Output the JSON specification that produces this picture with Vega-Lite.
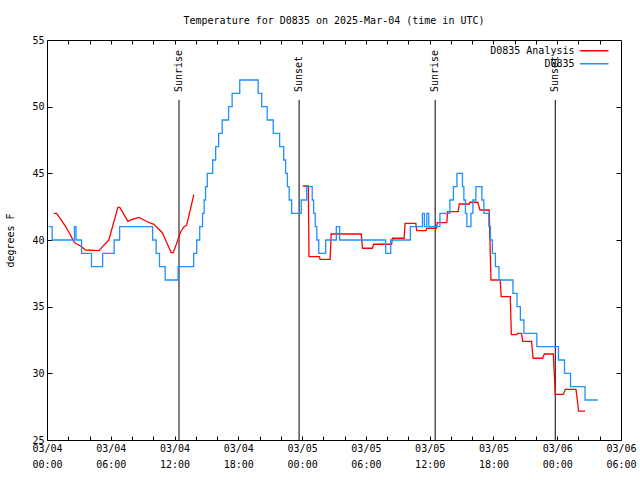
{
  "$schema": "https://vega.github.io/schema/vega-lite/v6.json",
  "width": 574,
  "height": 400,
  "autosize": {"type": "none"},
  "padding": {"left": 47, "top": 40, "right": 19, "bottom": 40},
  "background": "white",
  "title": {
    "text": "Temperature for D0835 on 2025-Mar-04 (time in UTC)",
    "font": "DejaVu Sans Mono",
    "fontSize": 10,
    "fontWeight": "normal",
    "color": "black",
    "anchor": "middle",
    "offset": 9
  },
  "config": {
    "view": {"stroke": "black", "strokeWidth": 1},
    "font": "DejaVu Sans Mono",
    "axis": {
      "grid": false,
      "domain": false,
      "tickColor": "black",
      "tickWidth": 1,
      "labelColor": "black",
      "labelFont": "DejaVu Sans Mono",
      "labelFontSize": 10,
      "titleFont": "DejaVu Sans Mono",
      "titleFontSize": 10,
      "titleFontWeight": "normal",
      "titleColor": "black"
    }
  },
  "datasets": {
    "events": [
      {"time": "2025-03-04T12:25:00Z", "label": "Sunrise"},
      {"time": "2025-03-04T23:43:00Z", "label": "Sunset"},
      {"time": "2025-03-05T12:31:00Z", "label": "Sunrise"},
      {"time": "2025-03-05T23:49:00Z", "label": "Sunset"}
    ],
    "analysis": [
      {"time": "2025-03-04T00:38:00Z", "temp": 42.0, "seg": 1, "series": "D0835 Analysis"},
      {"time": "2025-03-04T00:54:00Z", "temp": 42.0, "seg": 1, "series": "D0835 Analysis"},
      {"time": "2025-03-04T01:07:00Z", "temp": 41.75, "seg": 1, "series": "D0835 Analysis"},
      {"time": "2025-03-04T01:26:00Z", "temp": 41.4, "seg": 1, "series": "D0835 Analysis"},
      {"time": "2025-03-04T01:45:00Z", "temp": 41.0, "seg": 1, "series": "D0835 Analysis"},
      {"time": "2025-03-04T02:03:00Z", "temp": 40.6, "seg": 1, "series": "D0835 Analysis"},
      {"time": "2025-03-04T02:31:00Z", "temp": 39.9, "seg": 1, "series": "D0835 Analysis"},
      {"time": "2025-03-04T02:41:00Z", "temp": 39.75, "seg": 1, "series": "D0835 Analysis"},
      {"time": "2025-03-04T03:09:00Z", "temp": 39.55, "seg": 1, "series": "D0835 Analysis"},
      {"time": "2025-03-04T03:38:00Z", "temp": 39.25, "seg": 1, "series": "D0835 Analysis"},
      {"time": "2025-03-04T04:53:00Z", "temp": 39.2, "seg": 1, "series": "D0835 Analysis"},
      {"time": "2025-03-04T05:49:00Z", "temp": 40.0, "seg": 1, "series": "D0835 Analysis"},
      {"time": "2025-03-04T06:40:00Z", "temp": 42.45, "seg": 1, "series": "D0835 Analysis"},
      {"time": "2025-03-04T06:51:00Z", "temp": 42.45, "seg": 1, "series": "D0835 Analysis"},
      {"time": "2025-03-04T07:37:00Z", "temp": 41.4, "seg": 1, "series": "D0835 Analysis"},
      {"time": "2025-03-04T08:01:00Z", "temp": 41.55, "seg": 1, "series": "D0835 Analysis"},
      {"time": "2025-03-04T08:39:00Z", "temp": 41.7, "seg": 1, "series": "D0835 Analysis"},
      {"time": "2025-03-04T09:26:00Z", "temp": 41.37, "seg": 1, "series": "D0835 Analysis"},
      {"time": "2025-03-04T10:03:00Z", "temp": 41.17, "seg": 1, "series": "D0835 Analysis"},
      {"time": "2025-03-04T10:51:00Z", "temp": 40.55, "seg": 1, "series": "D0835 Analysis"},
      {"time": "2025-03-04T11:41:00Z", "temp": 39.05, "seg": 1, "series": "D0835 Analysis"},
      {"time": "2025-03-04T11:53:00Z", "temp": 39.05, "seg": 1, "series": "D0835 Analysis"},
      {"time": "2025-03-04T12:16:00Z", "temp": 39.9, "seg": 1, "series": "D0835 Analysis"},
      {"time": "2025-03-04T12:34:00Z", "temp": 40.6, "seg": 1, "series": "D0835 Analysis"},
      {"time": "2025-03-04T12:53:00Z", "temp": 41.0, "seg": 1, "series": "D0835 Analysis"},
      {"time": "2025-03-04T13:08:00Z", "temp": 41.1, "seg": 1, "series": "D0835 Analysis"},
      {"time": "2025-03-04T13:49:00Z", "temp": 43.4, "seg": 1, "series": "D0835 Analysis"},
      {"time": "2025-03-05T00:04:00Z", "temp": 44.05, "seg": 2, "series": "D0835 Analysis"},
      {"time": "2025-03-05T00:35:00Z", "temp": 44.05, "seg": 2, "series": "D0835 Analysis"},
      {"time": "2025-03-05T00:39:00Z", "temp": 38.75, "seg": 2, "series": "D0835 Analysis"},
      {"time": "2025-03-05T01:38:00Z", "temp": 38.75, "seg": 2, "series": "D0835 Analysis"},
      {"time": "2025-03-05T01:41:00Z", "temp": 38.55, "seg": 2, "series": "D0835 Analysis"},
      {"time": "2025-03-05T02:38:00Z", "temp": 38.55, "seg": 2, "series": "D0835 Analysis"},
      {"time": "2025-03-05T02:44:00Z", "temp": 40.45, "seg": 2, "series": "D0835 Analysis"},
      {"time": "2025-03-05T05:34:00Z", "temp": 40.45, "seg": 2, "series": "D0835 Analysis"},
      {"time": "2025-03-05T05:41:00Z", "temp": 39.38, "seg": 2, "series": "D0835 Analysis"},
      {"time": "2025-03-05T06:37:00Z", "temp": 39.38, "seg": 2, "series": "D0835 Analysis"},
      {"time": "2025-03-05T06:43:00Z", "temp": 39.68, "seg": 2, "series": "D0835 Analysis"},
      {"time": "2025-03-05T08:25:00Z", "temp": 39.68, "seg": 2, "series": "D0835 Analysis"},
      {"time": "2025-03-05T08:30:00Z", "temp": 40.13, "seg": 2, "series": "D0835 Analysis"},
      {"time": "2025-03-05T09:36:00Z", "temp": 40.13, "seg": 2, "series": "D0835 Analysis"},
      {"time": "2025-03-05T09:41:00Z", "temp": 41.25, "seg": 2, "series": "D0835 Analysis"},
      {"time": "2025-03-05T10:42:00Z", "temp": 41.25, "seg": 2, "series": "D0835 Analysis"},
      {"time": "2025-03-05T10:47:00Z", "temp": 40.7, "seg": 2, "series": "D0835 Analysis"},
      {"time": "2025-03-05T11:38:00Z", "temp": 40.7, "seg": 2, "series": "D0835 Analysis"},
      {"time": "2025-03-05T11:44:00Z", "temp": 40.88, "seg": 2, "series": "D0835 Analysis"},
      {"time": "2025-03-05T12:38:00Z", "temp": 40.88, "seg": 2, "series": "D0835 Analysis"},
      {"time": "2025-03-05T12:43:00Z", "temp": 41.3, "seg": 2, "series": "D0835 Analysis"},
      {"time": "2025-03-05T13:37:00Z", "temp": 41.3, "seg": 2, "series": "D0835 Analysis"},
      {"time": "2025-03-05T13:41:00Z", "temp": 42.13, "seg": 2, "series": "D0835 Analysis"},
      {"time": "2025-03-05T14:41:00Z", "temp": 42.13, "seg": 2, "series": "D0835 Analysis"},
      {"time": "2025-03-05T14:47:00Z", "temp": 42.7, "seg": 2, "series": "D0835 Analysis"},
      {"time": "2025-03-05T15:43:00Z", "temp": 42.7, "seg": 2, "series": "D0835 Analysis"},
      {"time": "2025-03-05T15:47:00Z", "temp": 42.83, "seg": 2, "series": "D0835 Analysis"},
      {"time": "2025-03-05T16:31:00Z", "temp": 42.83, "seg": 2, "series": "D0835 Analysis"},
      {"time": "2025-03-05T16:44:00Z", "temp": 42.25, "seg": 2, "series": "D0835 Analysis"},
      {"time": "2025-03-05T17:36:00Z", "temp": 42.25, "seg": 2, "series": "D0835 Analysis"},
      {"time": "2025-03-05T17:46:00Z", "temp": 37.0, "seg": 2, "series": "D0835 Analysis"},
      {"time": "2025-03-05T18:38:00Z", "temp": 37.0, "seg": 2, "series": "D0835 Analysis"},
      {"time": "2025-03-05T18:44:00Z", "temp": 35.75, "seg": 2, "series": "D0835 Analysis"},
      {"time": "2025-03-05T19:35:00Z", "temp": 35.75, "seg": 2, "series": "D0835 Analysis"},
      {"time": "2025-03-05T19:41:00Z", "temp": 32.9, "seg": 2, "series": "D0835 Analysis"},
      {"time": "2025-03-05T20:13:00Z", "temp": 32.9, "seg": 2, "series": "D0835 Analysis"},
      {"time": "2025-03-05T20:16:00Z", "temp": 33.0, "seg": 2, "series": "D0835 Analysis"},
      {"time": "2025-03-05T20:39:00Z", "temp": 33.0, "seg": 2, "series": "D0835 Analysis"},
      {"time": "2025-03-05T20:45:00Z", "temp": 32.4, "seg": 2, "series": "D0835 Analysis"},
      {"time": "2025-03-05T21:35:00Z", "temp": 32.4, "seg": 2, "series": "D0835 Analysis"},
      {"time": "2025-03-05T21:44:00Z", "temp": 31.13, "seg": 2, "series": "D0835 Analysis"},
      {"time": "2025-03-05T22:38:00Z", "temp": 31.13, "seg": 2, "series": "D0835 Analysis"},
      {"time": "2025-03-05T22:47:00Z", "temp": 31.45, "seg": 2, "series": "D0835 Analysis"},
      {"time": "2025-03-05T23:38:00Z", "temp": 31.45, "seg": 2, "series": "D0835 Analysis"},
      {"time": "2025-03-05T23:49:00Z", "temp": 28.42, "seg": 2, "series": "D0835 Analysis"},
      {"time": "2025-03-06T00:34:00Z", "temp": 28.42, "seg": 2, "series": "D0835 Analysis"},
      {"time": "2025-03-06T00:46:00Z", "temp": 28.8, "seg": 2, "series": "D0835 Analysis"},
      {"time": "2025-03-06T01:46:00Z", "temp": 28.8, "seg": 2, "series": "D0835 Analysis"},
      {"time": "2025-03-06T02:01:00Z", "temp": 27.17, "seg": 2, "series": "D0835 Analysis"},
      {"time": "2025-03-06T02:37:00Z", "temp": 27.17, "seg": 2, "series": "D0835 Analysis"}
    ],
    "obs": [
      {"time": "2025-03-04T00:10:00Z", "temp": 41, "series": "D0835"},
      {"time": "2025-03-04T00:29:00Z", "temp": 40, "series": "D0835"},
      {"time": "2025-03-04T02:35:00Z", "temp": 41, "series": "D0835"},
      {"time": "2025-03-04T02:44:00Z", "temp": 40, "series": "D0835"},
      {"time": "2025-03-04T03:15:00Z", "temp": 39, "series": "D0835"},
      {"time": "2025-03-04T04:11:00Z", "temp": 38, "series": "D0835"},
      {"time": "2025-03-04T05:14:00Z", "temp": 39, "series": "D0835"},
      {"time": "2025-03-04T06:19:00Z", "temp": 40, "series": "D0835"},
      {"time": "2025-03-04T06:50:00Z", "temp": 41, "series": "D0835"},
      {"time": "2025-03-04T09:56:00Z", "temp": 40, "series": "D0835"},
      {"time": "2025-03-04T10:16:00Z", "temp": 39, "series": "D0835"},
      {"time": "2025-03-04T10:35:00Z", "temp": 38, "series": "D0835"},
      {"time": "2025-03-04T11:07:00Z", "temp": 37, "series": "D0835"},
      {"time": "2025-03-04T12:20:00Z", "temp": 38, "series": "D0835"},
      {"time": "2025-03-04T13:48:00Z", "temp": 39, "series": "D0835"},
      {"time": "2025-03-04T14:05:00Z", "temp": 40, "series": "D0835"},
      {"time": "2025-03-04T14:22:00Z", "temp": 41, "series": "D0835"},
      {"time": "2025-03-04T14:38:00Z", "temp": 42, "series": "D0835"},
      {"time": "2025-03-04T14:47:00Z", "temp": 43, "series": "D0835"},
      {"time": "2025-03-04T14:55:00Z", "temp": 44, "series": "D0835"},
      {"time": "2025-03-04T15:05:00Z", "temp": 45, "series": "D0835"},
      {"time": "2025-03-04T15:35:00Z", "temp": 46, "series": "D0835"},
      {"time": "2025-03-04T15:52:00Z", "temp": 47, "series": "D0835"},
      {"time": "2025-03-04T16:09:00Z", "temp": 48, "series": "D0835"},
      {"time": "2025-03-04T16:29:00Z", "temp": 49, "series": "D0835"},
      {"time": "2025-03-04T17:05:00Z", "temp": 50, "series": "D0835"},
      {"time": "2025-03-04T17:25:00Z", "temp": 51, "series": "D0835"},
      {"time": "2025-03-04T18:08:00Z", "temp": 52, "series": "D0835"},
      {"time": "2025-03-04T19:52:00Z", "temp": 51, "series": "D0835"},
      {"time": "2025-03-04T20:12:00Z", "temp": 50, "series": "D0835"},
      {"time": "2025-03-04T20:43:00Z", "temp": 49, "series": "D0835"},
      {"time": "2025-03-04T21:17:00Z", "temp": 48, "series": "D0835"},
      {"time": "2025-03-04T21:53:00Z", "temp": 47, "series": "D0835"},
      {"time": "2025-03-04T22:16:00Z", "temp": 46, "series": "D0835"},
      {"time": "2025-03-04T22:27:00Z", "temp": 45, "series": "D0835"},
      {"time": "2025-03-04T22:37:00Z", "temp": 44, "series": "D0835"},
      {"time": "2025-03-04T22:47:00Z", "temp": 43, "series": "D0835"},
      {"time": "2025-03-04T23:01:00Z", "temp": 42, "series": "D0835"},
      {"time": "2025-03-04T23:55:00Z", "temp": 43, "series": "D0835"},
      {"time": "2025-03-05T00:26:00Z", "temp": 44, "series": "D0835"},
      {"time": "2025-03-05T00:57:00Z", "temp": 43, "series": "D0835"},
      {"time": "2025-03-05T01:05:00Z", "temp": 42, "series": "D0835"},
      {"time": "2025-03-05T01:14:00Z", "temp": 41, "series": "D0835"},
      {"time": "2025-03-05T01:23:00Z", "temp": 40, "series": "D0835"},
      {"time": "2025-03-05T01:34:00Z", "temp": 39, "series": "D0835"},
      {"time": "2025-03-05T02:13:00Z", "temp": 40, "series": "D0835"},
      {"time": "2025-03-05T03:13:00Z", "temp": 41, "series": "D0835"},
      {"time": "2025-03-05T03:32:00Z", "temp": 40, "series": "D0835"},
      {"time": "2025-03-05T07:52:00Z", "temp": 39, "series": "D0835"},
      {"time": "2025-03-05T08:20:00Z", "temp": 40, "series": "D0835"},
      {"time": "2025-03-05T10:11:00Z", "temp": 41, "series": "D0835"},
      {"time": "2025-03-05T11:19:00Z", "temp": 42, "series": "D0835"},
      {"time": "2025-03-05T11:30:00Z", "temp": 41, "series": "D0835"},
      {"time": "2025-03-05T11:44:00Z", "temp": 42, "series": "D0835"},
      {"time": "2025-03-05T11:55:00Z", "temp": 41, "series": "D0835"},
      {"time": "2025-03-05T12:58:00Z", "temp": 42, "series": "D0835"},
      {"time": "2025-03-05T13:54:00Z", "temp": 43, "series": "D0835"},
      {"time": "2025-03-05T14:14:00Z", "temp": 44, "series": "D0835"},
      {"time": "2025-03-05T14:34:00Z", "temp": 45, "series": "D0835"},
      {"time": "2025-03-05T15:05:00Z", "temp": 44, "series": "D0835"},
      {"time": "2025-03-05T15:13:00Z", "temp": 43, "series": "D0835"},
      {"time": "2025-03-05T15:22:00Z", "temp": 42, "series": "D0835"},
      {"time": "2025-03-05T15:30:00Z", "temp": 41, "series": "D0835"},
      {"time": "2025-03-05T15:53:00Z", "temp": 42, "series": "D0835"},
      {"time": "2025-03-05T16:04:00Z", "temp": 43, "series": "D0835"},
      {"time": "2025-03-05T16:21:00Z", "temp": 44, "series": "D0835"},
      {"time": "2025-03-05T16:55:00Z", "temp": 43, "series": "D0835"},
      {"time": "2025-03-05T17:06:00Z", "temp": 42, "series": "D0835"},
      {"time": "2025-03-05T17:34:00Z", "temp": 41, "series": "D0835"},
      {"time": "2025-03-05T17:43:00Z", "temp": 40, "series": "D0835"},
      {"time": "2025-03-05T17:54:00Z", "temp": 39, "series": "D0835"},
      {"time": "2025-03-05T18:11:00Z", "temp": 38, "series": "D0835"},
      {"time": "2025-03-05T18:31:00Z", "temp": 37, "series": "D0835"},
      {"time": "2025-03-05T19:50:00Z", "temp": 36, "series": "D0835"},
      {"time": "2025-03-05T20:13:00Z", "temp": 35, "series": "D0835"},
      {"time": "2025-03-05T20:32:00Z", "temp": 34, "series": "D0835"},
      {"time": "2025-03-05T20:52:00Z", "temp": 33, "series": "D0835"},
      {"time": "2025-03-05T22:05:00Z", "temp": 32, "series": "D0835"},
      {"time": "2025-03-06T00:07:00Z", "temp": 31, "series": "D0835"},
      {"time": "2025-03-06T00:41:00Z", "temp": 30, "series": "D0835"},
      {"time": "2025-03-06T01:15:00Z", "temp": 29, "series": "D0835"},
      {"time": "2025-03-06T02:37:00Z", "temp": 28, "series": "D0835"},
      {"time": "2025-03-06T03:49:00Z", "temp": 28, "series": "D0835"}
    ]
  },
  "layer": [
    {
      "data": {"name": "events"},
      "mark": {"type": "rule", "color": "black", "strokeWidth": 1},
      "encoding": {
        "x": {"field": "time", "type": "temporal", "axis": null},
        "y": {"datum": 50.5, "type": "quantitative", "axis": null},
        "y2": {"datum": 25}
      }
    },
    {
      "data": {"name": "events"},
      "mark": {"type": "text", "angle": 270, "align": "left", "baseline": "middle", "font": "DejaVu Sans Mono", "fontSize": 10, "color": "black"},
      "encoding": {
        "x": {"field": "time", "type": "temporal", "axis": null},
        "y": {"datum": 51.1, "type": "quantitative", "axis": null},
        "text": {"field": "label"}
      }
    },
    {
      "data": {"name": "analysis"},
      "mark": {"type": "line", "strokeWidth": 1.3},
      "encoding": {
        "x": {
          "field": "time",
          "type": "temporal",
          "scale": {"type": "utc", "domain": [{"year": 2025, "month": 3, "date": 4, "hours": 0, "utc": true}, {"year": 2025, "month": 3, "date": 6, "hours": 6, "utc": true}]},
          "axis": {
            "orient": "bottom",
            "title": null,
            "values": [
              {"year": 2025, "month": 3, "date": 4, "hours": 0, "utc": true},
              {"year": 2025, "month": 3, "date": 4, "hours": 2, "utc": true},
              {"year": 2025, "month": 3, "date": 4, "hours": 4, "utc": true},
              {"year": 2025, "month": 3, "date": 4, "hours": 6, "utc": true},
              {"year": 2025, "month": 3, "date": 4, "hours": 8, "utc": true},
              {"year": 2025, "month": 3, "date": 4, "hours": 10, "utc": true},
              {"year": 2025, "month": 3, "date": 4, "hours": 12, "utc": true},
              {"year": 2025, "month": 3, "date": 4, "hours": 14, "utc": true},
              {"year": 2025, "month": 3, "date": 4, "hours": 16, "utc": true},
              {"year": 2025, "month": 3, "date": 4, "hours": 18, "utc": true},
              {"year": 2025, "month": 3, "date": 4, "hours": 20, "utc": true},
              {"year": 2025, "month": 3, "date": 4, "hours": 22, "utc": true},
              {"year": 2025, "month": 3, "date": 5, "hours": 0, "utc": true},
              {"year": 2025, "month": 3, "date": 5, "hours": 2, "utc": true},
              {"year": 2025, "month": 3, "date": 5, "hours": 4, "utc": true},
              {"year": 2025, "month": 3, "date": 5, "hours": 6, "utc": true},
              {"year": 2025, "month": 3, "date": 5, "hours": 8, "utc": true},
              {"year": 2025, "month": 3, "date": 5, "hours": 10, "utc": true},
              {"year": 2025, "month": 3, "date": 5, "hours": 12, "utc": true},
              {"year": 2025, "month": 3, "date": 5, "hours": 14, "utc": true},
              {"year": 2025, "month": 3, "date": 5, "hours": 16, "utc": true},
              {"year": 2025, "month": 3, "date": 5, "hours": 18, "utc": true},
              {"year": 2025, "month": 3, "date": 5, "hours": 20, "utc": true},
              {"year": 2025, "month": 3, "date": 5, "hours": 22, "utc": true},
              {"year": 2025, "month": 3, "date": 6, "hours": 0, "utc": true},
              {"year": 2025, "month": 3, "date": 6, "hours": 2, "utc": true},
              {"year": 2025, "month": 3, "date": 6, "hours": 4, "utc": true},
              {"year": 2025, "month": 3, "date": 6, "hours": 6, "utc": true}
            ],
            "labelExpr": "utchours(datum.value) % 6 == 0 ? [utcFormat(datum.value, '%m/%d'), utcFormat(datum.value, '%H:%M')] : ''",
            "tickSize": -4,
            "labelPadding": 7,
            "labelOverlap": false,
            "labelFlush": false,
            "labelBound": false,
            "labelLineHeight": 16
          }
        },
        "y": {
          "field": "temp",
          "type": "quantitative",
          "scale": {"domain": [25, 55], "nice": false, "zero": false},
          "axis": {
            "orient": "left",
            "title": "degrees F",
            "values": [25, 30, 35, 40, 45, 50, 55],
            "tickSize": -5,
            "labelPadding": 8,
            "titlePadding": 16
          }
        },
        "color": {
          "field": "series",
          "type": "nominal",
          "scale": {"domain": ["D0835 Analysis", "D0835"], "range": ["#ff0000", "#1e90ff"]},
          "legend": {
            "orient": "none",
            "legendX": 539.5,
            "legendY": 2.75,
            "padding": 0,
            "title": null,
            "symbolType": "M-2.1,0H2",
            "symbolSize": 196,
            "symbolStrokeWidth": 1.5,
            "rowPadding": 0,
            "labelAlign": "right",
            "labelOffset": -28,
            "labelFont": "DejaVu Sans Mono",
            "labelFontSize": 10,
            "labelColor": "black",
            "labelLimit": 0
          }
        },
        "detail": {"field": "seg"}
      }
    },
    {
      "data": {"name": "obs"},
      "mark": {"type": "line", "strokeWidth": 1.3, "interpolate": "step-after"},
      "encoding": {
        "x": {
          "field": "time",
          "type": "temporal",
          "axis": {
            "orient": "top",
            "title": null,
            "labels": false,
            "values": [
              {"year": 2025, "month": 3, "date": 4, "hours": 2, "utc": true},
              {"year": 2025, "month": 3, "date": 4, "hours": 4, "utc": true},
              {"year": 2025, "month": 3, "date": 4, "hours": 6, "utc": true},
              {"year": 2025, "month": 3, "date": 4, "hours": 8, "utc": true},
              {"year": 2025, "month": 3, "date": 4, "hours": 10, "utc": true},
              {"year": 2025, "month": 3, "date": 4, "hours": 12, "utc": true},
              {"year": 2025, "month": 3, "date": 4, "hours": 14, "utc": true},
              {"year": 2025, "month": 3, "date": 4, "hours": 16, "utc": true},
              {"year": 2025, "month": 3, "date": 4, "hours": 18, "utc": true},
              {"year": 2025, "month": 3, "date": 4, "hours": 20, "utc": true},
              {"year": 2025, "month": 3, "date": 4, "hours": 22, "utc": true},
              {"year": 2025, "month": 3, "date": 5, "hours": 0, "utc": true},
              {"year": 2025, "month": 3, "date": 5, "hours": 2, "utc": true},
              {"year": 2025, "month": 3, "date": 5, "hours": 4, "utc": true},
              {"year": 2025, "month": 3, "date": 5, "hours": 6, "utc": true},
              {"year": 2025, "month": 3, "date": 5, "hours": 8, "utc": true},
              {"year": 2025, "month": 3, "date": 5, "hours": 10, "utc": true},
              {"year": 2025, "month": 3, "date": 5, "hours": 12, "utc": true},
              {"year": 2025, "month": 3, "date": 5, "hours": 14, "utc": true},
              {"year": 2025, "month": 3, "date": 5, "hours": 16, "utc": true},
              {"year": 2025, "month": 3, "date": 5, "hours": 18, "utc": true},
              {"year": 2025, "month": 3, "date": 5, "hours": 20, "utc": true},
              {"year": 2025, "month": 3, "date": 5, "hours": 22, "utc": true},
              {"year": 2025, "month": 3, "date": 6, "hours": 0, "utc": true},
              {"year": 2025, "month": 3, "date": 6, "hours": 2, "utc": true},
              {"year": 2025, "month": 3, "date": 6, "hours": 4, "utc": true}
            ],
            "tickSize": -4
          }
        },
        "y": {
          "field": "temp",
          "type": "quantitative",
          "axis": {
            "orient": "right",
            "title": null,
            "labels": false,
            "values": [30, 35, 40, 45, 50],
            "tickSize": -5
          }
        },
        "color": {"field": "series", "type": "nominal"}
      }
    }
  ],
  "resolve": {"axis": {"x": "independent", "y": "independent"}}
}
